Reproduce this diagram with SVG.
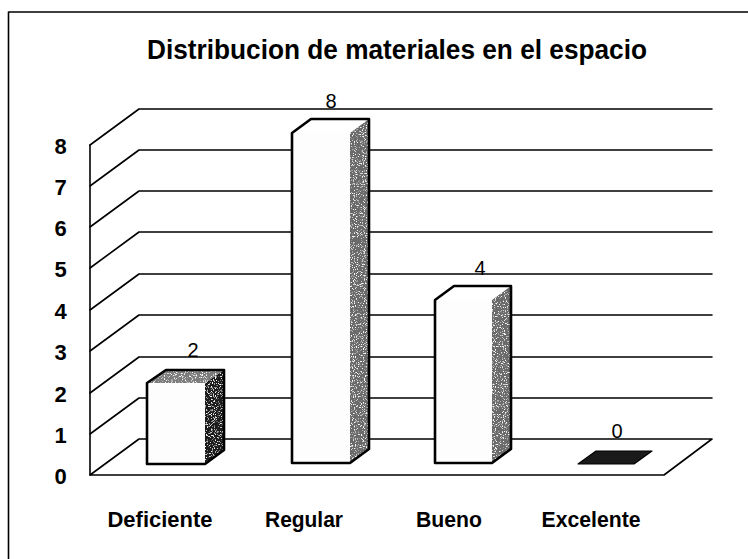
<svg xmlns="http://www.w3.org/2000/svg" width="748" height="559" viewBox="0 0 748 559">
<style>
.grid{stroke:#000;stroke-width:1.6;fill:none;stroke-linecap:round;stroke-linejoin:round}
.ax{font-family:"Liberation Sans",Arial,sans-serif;font-weight:bold;font-size:22px;fill:#000;text-anchor:middle}
.cat{font-family:"Liberation Sans",Arial,sans-serif;font-weight:bold;font-size:22px;fill:#000;text-anchor:middle}
.val{font-family:"Liberation Sans",Arial,sans-serif;font-size:20px;fill:#000;text-anchor:middle}
.title{font-family:"Liberation Sans",Arial,sans-serif;font-weight:bold;font-size:28px;fill:#000}
.outline{fill:none;stroke:#000;stroke-width:2.6;stroke-linejoin:round}
.front{fill:#fdfdfd}
.sideMid{fill:#6a6a6a}
.sideDark{fill:#1e1e1e}
.topGrey{fill:#7c7c7c}
</style>
<defs>
<filter id="grain" x="0" y="0" width="1" height="1">
<feTurbulence type="fractalNoise" baseFrequency="0.9" numOctaves="2" seed="3" result="n"/>
<feColorMatrix in="n" type="matrix" values="0 0 0 0 1  0 0 0 0 1  0 0 0 0 1  0 0 0 -6 2.6" result="w"/>
<feComposite in="w" in2="SourceGraphic" operator="in" result="wi"/>
<feMerge><feMergeNode in="SourceGraphic"/><feMergeNode in="wi"/></feMerge>
</filter>
</defs>
<rect x="0" y="0" width="748" height="559" fill="#fff"/>
<g id="frame" class="grid">
<path d="M8.5,559 V12 H748"/>
</g>
<text id="title" class="title" x="147" y="59" textLength="500" lengthAdjust="spacingAndGlyphs">Distribucion de materiales en el espacio</text>
<g id="gridlines" class="grid">
<path d="M90,145 V475"/>
<path d="M90,475 H664 L712,439 H139 L90,475"/>
<path d="M90,434 L139,398 H712"/>
<path d="M90,393 L139,357 H712"/>
<path d="M90,351 L139,315 H712"/>
<path d="M90,310 L139,274 H712"/>
<path d="M90,268 L139,232 H712"/>
<path d="M90,227 L139,191 H712"/>
<path d="M90,186 L139,150 H712"/>
<path d="M90,145 L139,109 H712"/>
</g>
<g id="yaxis">
<text class="ax" x="60.5" y="484">0</text>
<text class="ax" x="60.5" y="443">1</text>
<text class="ax" x="60.5" y="402">2</text>
<text class="ax" x="60.5" y="360">3</text>
<text class="ax" x="60.5" y="319">4</text>
<text class="ax" x="60.5" y="277">5</text>
<text class="ax" x="60.5" y="236">6</text>
<text class="ax" x="60.5" y="195">7</text>
<text class="ax" x="60.5" y="154">8</text>
</g>
<g id="bar-deficiente">
<rect class="front" x="147" y="383" width="58" height="81"/>
<polygon class="sideDark" points="205,383 224,370 224,450 205,464" filter="url(#grain)"/>
<polygon class="topGrey" points="147,383 166,370 224,370 205,383" filter="url(#grain)"/>
<path class="outline" d="M147,464 V383 L166,370 H224 V450 L205,464 Z"/>
<text class="val" x="193" y="357">2</text>
</g>
<g id="bar-regular">
<rect class="front" x="292" y="133" width="58" height="330"/>
<polygon class="sideMid" points="350,133 369,119 369,449 350,463" filter="url(#grain)"/>
<path class="outline" d="M292,463 V133 L311,119 H369 V449 L350,463 Z"/>
<text class="val" x="331" y="108">8</text>
</g>
<g id="bar-bueno">
<rect class="front" x="435" y="300" width="57" height="163"/>
<polygon class="sideMid" points="492,300 511,286 511,449 492,463" filter="url(#grain)"/>
<path class="outline" d="M435,463 V300 L454,286 H511 V449 L492,463 Z"/>
<text class="val" x="480" y="275">4</text>
</g>
<g id="bar-excelente">
<polygon points="578,464 634,464 652,451 596,451" fill="#1a1a1a" stroke="#000" stroke-width="1.2" stroke-linejoin="round"/>
<text class="val" x="617" y="438">0</text>
</g>
<g id="categories">
<text class="cat" x="160" y="527" textLength="105" lengthAdjust="spacingAndGlyphs">Deficiente</text>
<text class="cat" x="304" y="527" textLength="78" lengthAdjust="spacingAndGlyphs">Regular</text>
<text class="cat" x="449" y="527" textLength="66" lengthAdjust="spacingAndGlyphs">Bueno</text>
<text class="cat" x="591" y="527" textLength="99" lengthAdjust="spacingAndGlyphs">Excelente</text>
</g>
</svg>
